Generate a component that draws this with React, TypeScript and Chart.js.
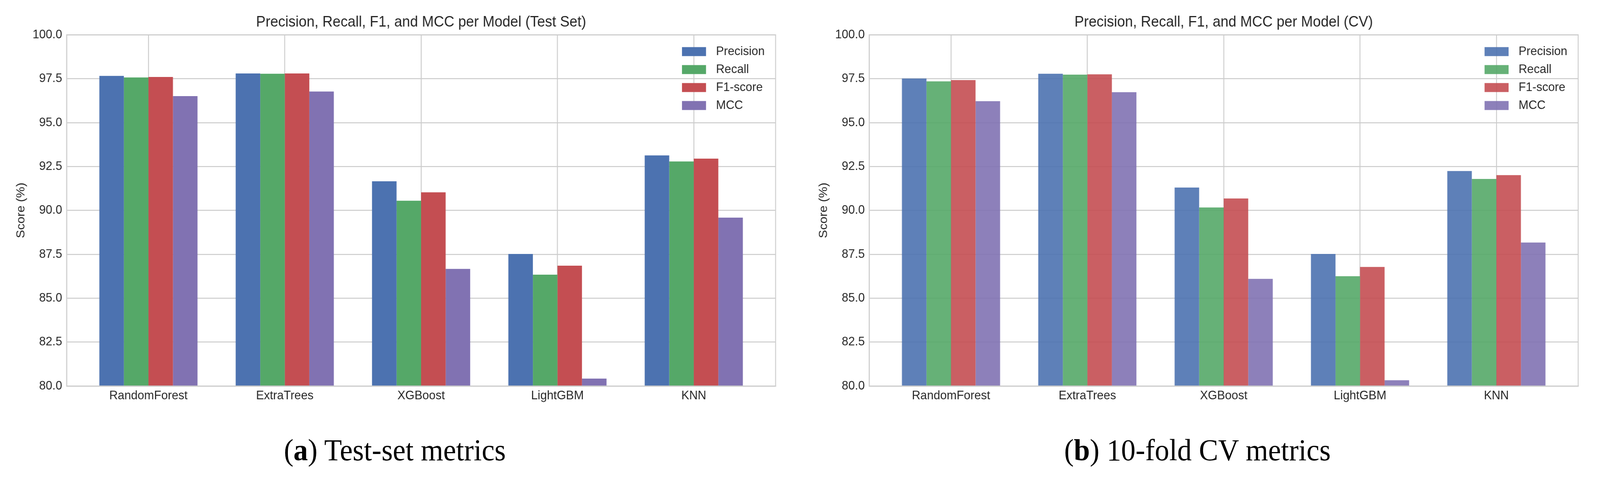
import { useEffect, useRef } from "react"
import { Chart, registerables, type ChartConfiguration, type Plugin } from "chart.js"

Chart.register(...registerables)

// categories and series
const models = ["RandomForest", "ExtraTrees", "XGBoost", "LightGBM", "KNN"]
const metricNames = ["Precision", "Recall", "F1-score", "MCC"]

// (a) test set
const precisionTest = [97.66, 97.8, 91.66, 87.52, 93.13]
const recallTest = [97.57, 97.78, 90.55, 86.34, 92.79]
const f1Test = [97.6, 97.8, 91.03, 86.85, 92.95]
const mccTest = [96.51, 96.77, 86.67, 80.42, 89.59]

// (b) 10-fold CV
const precisionCV = [97.51, 97.78, 91.3, 87.52, 92.24]
const recallCV = [97.35, 97.73, 90.17, 86.25, 91.79]
const f1CV = [97.42, 97.75, 90.68, 86.78, 92.01]
const mccCV = [96.22, 96.73, 86.1, 80.33, 88.17]

const yMin = 80
const yMax = 100
const yStep = 2.5

// seaborn "deep" palette
const metricRgb = ["76, 114, 176", "85, 168, 104", "196, 78, 82", "129, 114, 178"]

const TEXT = "#262626"
const GRID = "#cccccc"
const SANS = "'Liberation Sans', Arial, Helvetica, sans-serif"
const SERIF = "'Liberation Serif', 'Times New Roman', serif"

// the figure is laid out at its native size and squeezed to the window width
const FIG_W = 4324
const FIG_H = 1226
const CANVAS_W = 2155
const CANVAS_H = 1060
const PANEL_OFFSET = 2169

// legend drawn inside the plot, top right, without frame
const insideLegend: Plugin<"bar"> = {
	id: "insideLegend",
	afterDatasetsDraw(chart) {
		const { ctx, chartArea } = chart
		ctx.save()
		ctx.font = `32px ${SANS}`
		ctx.textBaseline = "middle"
		ctx.textAlign = "left"
		chart.data.datasets.forEach((ds, i) => {
			const x = chartArea.right - 253
			const y = chartArea.top + 43 + i * 46
			ctx.fillStyle = ds.backgroundColor as string
			ctx.fillRect(x, y - 11.5, 65, 23)
			ctx.fillStyle = TEXT
			ctx.fillText(String(ds.label ?? ""), x + 92, y)
		})
		ctx.restore()
	},
}

// the four light grey spines
const frame: Plugin<"bar"> = {
	id: "frame",
	afterDatasetsDraw(chart) {
		const { ctx, chartArea } = chart
		ctx.save()
		ctx.strokeStyle = GRID
		ctx.lineWidth = 2.5
		ctx.strokeRect(chartArea.left, chartArea.top, chartArea.width, chartArea.height)
		ctx.restore()
	},
}

interface MetricChartProps {
	title: string
	series: number[][]
	alpha: number
}

function MetricChart({ title, series, alpha }: MetricChartProps) {
	const canvasRef = useRef<HTMLCanvasElement>(null)

	useEffect(() => {
		if (!canvasRef.current) return

		const datasets = series.map((values, i) => ({
			label: metricNames[i],
			data: values.map((v, j) => ({ x: j, y: v })),
			backgroundColor: alpha < 1 ? `rgba(${metricRgb[i]}, ${alpha})` : `rgb(${metricRgb[i]})`,
			borderWidth: 0,
			categoryPercentage: 0.72,
			barPercentage: 1,
		}))

		const config: ChartConfiguration<"bar"> = {
			type: "bar",
			data: { datasets: datasets as any },
			options: {
				responsive: false,
				animation: false,
				events: [],
				layout: { padding: { left: 0, right: CANVAS_W - 2096, top: 0, bottom: 0 } },
				plugins: {
					legend: { display: false },
					tooltip: { enabled: false },
					title: {
						display: true,
						text: title,
						fullSize: false,
						color: TEXT,
						font: { family: SANS, size: 38.4, weight: "normal" },
						padding: { top: 34, bottom: 9 },
					},
				},
				scales: {
					x: {
						type: "linear",
						bounds: "data",
						offset: false,
						min: -0.6,
						max: models.length - 0.4,
						afterBuildTicks: (scale) => {
							scale.ticks = models.map((_, i) => ({ value: i }))
						},
						afterFit: (scale) => {
							scale.height = CANVAS_H - 988
						},
						ticks: {
							color: TEXT,
							font: { family: SANS, size: 32 },
							padding: 6,
							maxRotation: 0,
							autoSkip: false,
							callback: (value) => models[Number(value)] ?? "",
						},
						grid: { color: GRID, lineWidth: 2.5, drawTicks: false, offset: false },
						border: { color: GRID, width: 2.5 },
					},
					y: {
						min: yMin,
						max: yMax,
						afterFit: (scale) => {
							scale.width = 180
						},
						ticks: {
							stepSize: yStep,
							color: TEXT,
							font: { family: SANS, size: 32 },
							padding: 12,
							callback: (value) => Number(value).toFixed(1),
						},
						grid: { color: GRID, lineWidth: 2.5, drawTicks: false },
						border: { color: GRID, width: 2.5 },
						title: {
							display: true,
							text: "Score (%)",
							color: TEXT,
							font: { family: SANS, size: 32 },
							padding: { top: 38, bottom: 0 },
						},
					},
				},
			},
			plugins: [frame, insideLegend],
		}

		const chart = new Chart(canvasRef.current, config)

		return () => {
			chart.destroy()
		}
	}, [title, series, alpha])

	return (
		<canvas
			ref={canvasRef}
			width={CANVAS_W}
			height={CANVAS_H}
			style={{ display: "block", width: CANVAS_W, height: CANVAS_H }}
		/>
	)
}

const captionStyle = (center: number): React.CSSProperties => ({
	position: "absolute",
	left: center - 600,
	width: 1200,
	top: 1113,
	textAlign: "center",
	fontFamily: SERIF,
	fontSize: 78,
	lineHeight: "78px",
	color: "#000",
	whiteSpace: "nowrap",
})

export default function App() {
	// the browser window may be narrower than the figure: squeeze horizontally
	const sx = Math.min(1, window.innerWidth / FIG_W)

	return (
		<div
			style={{
				position: "fixed",
				left: 0,
				top: 0,
				width: FIG_W,
				height: FIG_H,
				background: "#fff",
				overflow: "hidden",
				transform: `scale(${sx}, 1)`,
				transformOrigin: "0 0",
			}}
		>
			<div style={{ position: "absolute", left: 0, top: 0 }}>
				<MetricChart
					title="Precision, Recall, F1, and MCC per Model (Test Set)"
					series={[precisionTest, recallTest, f1Test, mccTest]}
					alpha={1}
				/>
			</div>
			<div style={{ position: "absolute", left: PANEL_OFFSET, top: 0 }}>
				<MetricChart
					title="Precision, Recall, F1, and MCC per Model (CV)"
					series={[precisionCV, recallCV, f1CV, mccCV]}
					alpha={0.9}
				/>
			</div>
			<div style={captionStyle(1067)}>
				(<b>a</b>) Test-set metrics
			</div>
			<div style={captionStyle(1067 + PANEL_OFFSET)}>
				(<b>b</b>) 10-fold CV metrics
			</div>
		</div>
	)
}
